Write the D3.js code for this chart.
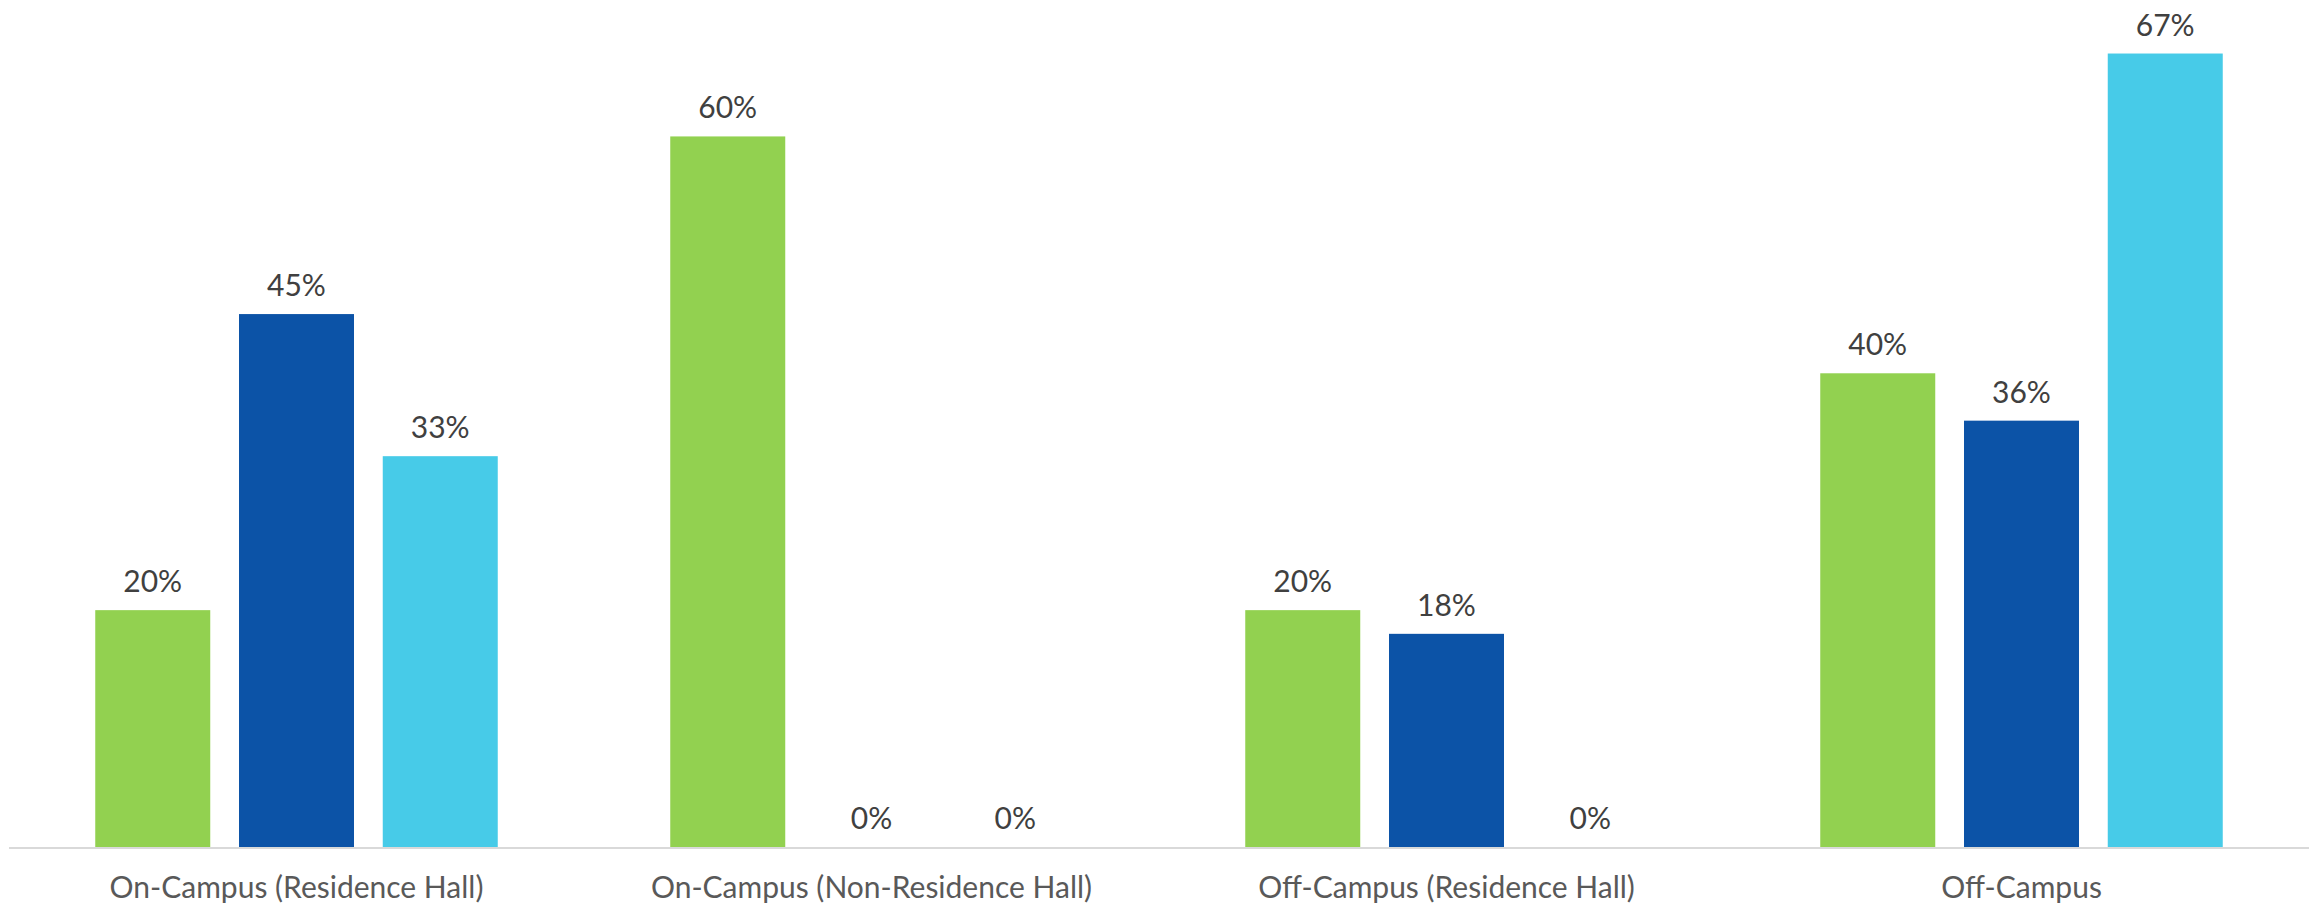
<!DOCTYPE html>
<html>
<head>
<meta charset="utf-8">
<script src="https://cdn.jsdelivr.net/npm/d3@7"></script>
<style>
  html, body { margin: 0; padding: 0; background: #ffffff; }
  svg { display: block; }
</style>
</head>
<body>
<svg id="chart" width="2320" height="907"></svg>
<script>
const categories = ["On-Campus (Residence Hall)", "On-Campus (Non-Residence Hall)", "Off-Campus (Residence Hall)", "Off-Campus"];
const seriesNames = ["Series A", "Series B", "Series C"];
const seriesA = [20, 60, 20, 40];
const seriesB = [45, 0, 18, 36];
const seriesC = [33, 0, 0, 67];
const seriesColors = ["#92d150", "#0c53a7", "#47cbe8"];
const yDomain = [0, 70];

const svg = d3.select("#chart");
const left = 9, right = 2309, baseY = 847, topY = 18;

const x0 = d3.scaleBand().domain(categories).range([left, right]).paddingInner(0.3).paddingOuter(0.15);
const x1 = d3.scaleBand().domain(seriesNames).range([0, x0.bandwidth()]).paddingInner(0.2);
const y = d3.scaleLinear().domain(yDomain).range([baseY, topY]);

const allSeries = [seriesA, seriesB, seriesC];
const data = [];
categories.forEach((c, i) => {
  seriesNames.forEach((s, j) => {
    data.push({cat: c, series: s, value: allSeries[j][i], color: seriesColors[j]});
  });
});

const g = svg.append("g");

g.selectAll("rect.bar").data(data).enter().append("rect")
  .attr("class", "bar")
  .attr("x", d => x0(d.cat) + x1(d.series))
  .attr("width", x1.bandwidth())
  .attr("y", d => y(d.value))
  .attr("height", d => baseY - y(d.value))
  .attr("fill", d => d.color);

// baseline axis
const xAxis = d3.axisBottom(x0).tickSize(0).tickPadding(0);
const axisG = svg.append("g").attr("transform", `translate(0,${baseY + 1})`).call(xAxis);
axisG.select(".domain").attr("stroke", "#d9d9d9").attr("stroke-width", 2)
  .attr("d", `M${left},0H${right}`);
axisG.selectAll(".tick text")
  .attr("y", 0)
  .attr("dy", "50px")
  .attr("font-family", "Lato, 'Open Sans', sans-serif")
  .attr("font-size", "30px")
  .attr("fill", "#595959")
  .attr("text-anchor", "middle");

g.selectAll("text.val").data(data).enter().append("text")
  .attr("class", "val")
  .attr("x", d => x0(d.cat) + x1(d.series) + x1.bandwidth() / 2)
  .attr("y", d => y(d.value) - 18)
  .attr("text-anchor", "middle")
  .attr("font-family", "Lato, 'Open Sans', sans-serif")
  .attr("font-size", "30px")
  .attr("fill", "#404040")
  .text(d => d.value + "%");
</script>
</body>
</html>
